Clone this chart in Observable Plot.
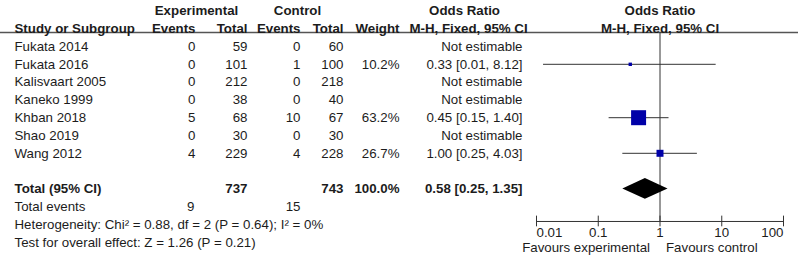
<!DOCTYPE html>
<html>
<head>
<meta charset="utf-8">
<script src="https://cdn.jsdelivr.net/npm/d3@7"></script>
<script src="https://cdn.jsdelivr.net/npm/@observablehq/plot@0.6"></script>
<style>
  html, body { margin: 0; padding: 0; background: #fff; }
  #chart { width: 798px; height: 260px; overflow: hidden; }
</style>
</head>
<body>
<div id="chart"></div>
<script>
// ---- data ----
const studies     = ["Fukata 2014", "Fukata 2016", "Kalisvaart 2005", "Kaneko 1999", "Khban 2018", "Shao 2019", "Wang 2012"];
const expEvents   = [0, 0, 0, 0, 5, 0, 4];
const expTotal    = [59, 101, 212, 38, 68, 30, 229];
const ctrlEvents  = [0, 1, 0, 0, 10, 0, 4];
const ctrlTotal   = [60, 100, 218, 40, 67, 30, 228];
const weights     = [null, 10.2, null, null, 63.2, null, 26.7];
const orEstimate  = [null, 0.33, null, null, 0.45, null, 1.00];
const orLower     = [null, 0.013, null, null, 0.15, null, 0.25];
const orUpper     = [null, 8.12, null, null, 1.40, null, 4.03];
const totalLabel  = "Total (95% CI)";
const totalExp    = 737;
const totalCtrl   = 743;
const totalWeight = "100.0%";
const pooledOR    = [0.25, 0.58, 1.35]; // lower, estimate, upper
const totalEventsExp  = 9;
const totalEventsCtrl = 15;
const heterogeneity = "Heterogeneity: Chi² = 0.88, df = 2 (P = 0.64); I² = 0%";
const overallEffect = "Test for overall effect: Z = 1.26 (P = 0.21)";
const axisTicks   = [0.01, 0.1, 1, 10, 100];
const favoursLeft = "Favours experimental";
const favoursRight = "Favours control";
const headerGroups = ["Experimental", "Control", "Odds Ratio", "Odds Ratio"];
const headerCols = ["Study or Subgroup", "Events", "Total", "Events", "Total", "Weight", "M-H, Fixed, 95% CI", "M-H, Fixed, 95% CI"];

// ---- build table ----
const fmt2 = v => v.toFixed(2);
const rows = studies.map((s, i) => ({
  row: i, study: s,
  ee: expEvents[i], et: expTotal[i], ce: ctrlEvents[i], ct: ctrlTotal[i],
  w: weights[i], or: orEstimate[i], lo: orLower[i], hi: orUpper[i],
  orText: orEstimate[i] == null ? "Not estimable"
        : `${fmt2(orEstimate[i])} [${fmt2(orLower[i])}, ${fmt2(orUpper[i])}]`,
  wText: weights[i] == null ? "" : weights[i].toFixed(1) + "%"
}));
const est = rows.filter(d => d.or != null);

// layout (row units)
const hdr1 = -2, hdr2 = -1, hdrLine = -0.79;
const totalRow = 8, eventsRow = 9, hetRow = 10, testRow = 11;
const axisRow = 9.83, tickLabRow = 10.48, favRow = 11.3;
const dh = 0.58;

const diamond = [
  {x: pooledOR[0], y1: totalRow, y2: totalRow},
  {x: pooledOR[1], y1: totalRow - dh, y2: totalRow + dh},
  {x: pooledOR[2], y1: totalRow, y2: totalRow}
];

const ink = "#1c1c1c";
const lineCol = "#333";
const L = (dx, anchor, extra = {}) => ({frameAnchor: "left", dx, textAnchor: anchor, fill: ink, ...extra});

const chart = Plot.plot({
  width: 798,
  height: 260,
  marginTop: 0, marginLeft: 0, marginRight: 0, marginBottom: 0,
  style: {fontFamily: "'Liberation Sans', Arial, sans-serif", fontSize: "13.3px", background: "#fff", color: ink},
  x: {type: "log", domain: [0.01, 100], range: [536, 783]},
  y: {type: "linear", domain: [0, 1], range: [46, 63.8]},
  r: {type: "linear", domain: [0, 63.2], range: [0.65, 8.46]},
  marks: [
    // header separator
    Plot.ruleY([hdrLine], {stroke: "#555", strokeWidth: 1.6}),
    // reference line at OR = 1
    Plot.ruleX([1], {y1: hdrLine, y2: axisRow, stroke: lineCol}),
    // confidence intervals
    Plot.ruleY(est, {y: "row", x1: "lo", x2: "hi", stroke: lineCol}),
    // point estimates
    Plot.dot(est, {x: "or", y: "row", r: "w", symbol: "square", fill: "#0000a8", stroke: "none"}),
    // pooled diamond
    Plot.areaY(diamond, {x: "x", y1: "y1", y2: "y2", fill: "#000", curve: "linear"}),
    // axis
    Plot.ruleY([axisRow], {x1: axisTicks[0], x2: axisTicks[axisTicks.length - 1], stroke: lineCol}),
    Plot.ruleX(axisTicks, {x: d => d, y1: axisRow - 0.3, y2: axisRow + 0.3, stroke: lineCol}),
    Plot.text(axisTicks.slice(0, 1), {x: d => d, y: tickLabRow, text: d => String(d), textAnchor: "start", fill: ink}),
    Plot.text(axisTicks.slice(1, -1), {x: d => d, y: tickLabRow, text: d => String(d), textAnchor: "middle", fill: ink}),
    Plot.text(axisTicks.slice(-1), {x: d => d, y: tickLabRow, text: d => String(d), textAnchor: "end", fill: ink}),
    Plot.text([favoursLeft], {x: 1, y: favRow, text: d => d, textAnchor: "end", dx: -10, fill: ink}),
    Plot.text([favoursRight], {x: 1, y: favRow, text: d => d, textAnchor: "start", dx: 6, fill: ink}),

    // headers row 1
    Plot.text([headerGroups[0]], {y: hdr1, text: d => d, ...L(196, "middle", {fontWeight: "bold"})}),
    Plot.text([headerGroups[1]], {y: hdr1, text: d => d, ...L(297, "middle", {fontWeight: "bold"})}),
    Plot.text([headerGroups[2]], {y: hdr1, text: d => d, ...L(464, "middle", {fontWeight: "bold"})}),
    Plot.text([headerGroups[3]], {x: 1, y: hdr1, text: d => d, textAnchor: "middle", fontWeight: "bold", fill: ink}),
    // headers row 2
    Plot.text([headerCols[0]], {y: hdr2, text: d => d, ...L(14, "start", {fontWeight: "bold"})}),
    Plot.text([headerCols[1]], {y: hdr2, text: d => d, ...L(195, "end", {fontWeight: "bold"})}),
    Plot.text([headerCols[2]], {y: hdr2, text: d => d, ...L(247, "end", {fontWeight: "bold"})}),
    Plot.text([headerCols[3]], {y: hdr2, text: d => d, ...L(300, "end", {fontWeight: "bold"})}),
    Plot.text([headerCols[4]], {y: hdr2, text: d => d, ...L(343, "end", {fontWeight: "bold"})}),
    Plot.text([headerCols[5]], {y: hdr2, text: d => d, ...L(399, "end", {fontWeight: "bold"})}),
    Plot.text([headerCols[6]], {y: hdr2, text: d => d, ...L(468, "middle", {fontWeight: "bold"})}),
    Plot.text([headerCols[7]], {x: 1, y: hdr2, text: d => d, textAnchor: "middle", fontWeight: "bold", fill: ink}),

    // study rows
    Plot.text(rows, {y: "row", text: "study", ...L(14, "start")}),
    Plot.text(rows, {y: "row", text: d => String(d.ee), ...L(195, "end")}),
    Plot.text(rows, {y: "row", text: d => String(d.et), ...L(247, "end")}),
    Plot.text(rows, {y: "row", text: d => String(d.ce), ...L(300, "end")}),
    Plot.text(rows, {y: "row", text: d => String(d.ct), ...L(343, "end")}),
    Plot.text(rows, {y: "row", text: "wText", ...L(399, "end")}),
    Plot.text(rows, {y: "row", text: "orText", ...L(522, "end")}),

    // totals
    Plot.text([totalLabel], {y: totalRow, text: d => d, ...L(14, "start", {fontWeight: "bold"})}),
    Plot.text([totalExp], {y: totalRow, text: d => String(d), ...L(247, "end", {fontWeight: "bold"})}),
    Plot.text([totalCtrl], {y: totalRow, text: d => String(d), ...L(343, "end", {fontWeight: "bold"})}),
    Plot.text([totalWeight], {y: totalRow, text: d => d, ...L(399, "end", {fontWeight: "bold"})}),
    Plot.text([pooledOR], {y: totalRow, text: d => `${fmt2(d[1])} [${fmt2(d[0])}, ${fmt2(d[2])}]`, ...L(522, "end", {fontWeight: "bold"})}),
    Plot.text(["Total events"], {y: eventsRow, text: d => d, ...L(14, "start")}),
    Plot.text([totalEventsExp], {y: eventsRow, text: d => String(d), ...L(194, "end")}),
    Plot.text([totalEventsCtrl], {y: eventsRow, text: d => String(d), ...L(300, "end")}),
    Plot.text([heterogeneity], {y: hetRow, text: d => d, ...L(14, "start")}),
    Plot.text([overallEffect], {y: testRow, text: d => d, ...L(14, "start")})
  ]
});
document.getElementById("chart").appendChild(chart);
</script>
</body>
</html>
